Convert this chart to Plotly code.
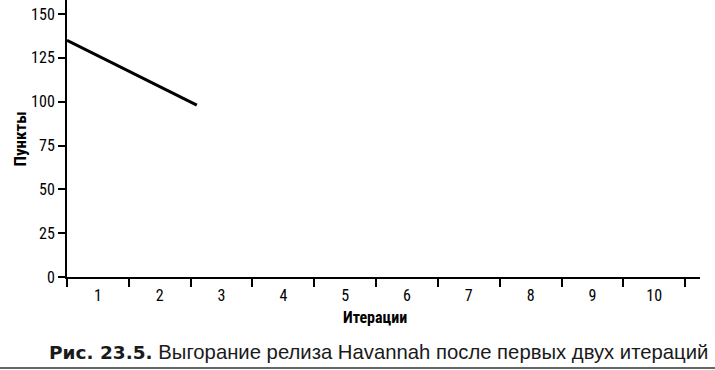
import plotly.graph_objects as go

# Data
iterations_done = [0, 2.1]       # position along iteration axis (boundary units)
points_remaining = [135, 98]
iteration_labels = ["1", "2", "3", "4", "5", "6", "7", "8", "9", "10"]
y_ticks = [0, 25, 50, 75, 100, 125, 150]

label_pos = [i + 0.5 for i in range(len(iteration_labels))]
boundaries = [i for i in range(len(iteration_labels) + 1)]

fig = go.Figure()
fig.add_trace(go.Scatter(x=iterations_done, y=points_remaining, mode="lines",
                         line=dict(color="black", width=3), showlegend=False,
                         cliponaxis=False))

narrow = "Liberation Sans Narrow, Arial Narrow, Roboto Condensed, Roboto, sans-serif"
tick_font = dict(family=narrow, size=16, color="black")

fig.update_layout(
    width=715, height=370,
    margin=dict(l=67, r=15, t=0, b=93),
    paper_bgcolor="white", plot_bgcolor="white",
    xaxis=dict(range=[0, 10.24], tickvals=label_pos, ticktext=iteration_labels,
               ticks="outside", ticklen=3, tickcolor="rgba(0,0,0,0)",
               showline=True, linecolor="black", linewidth=2, showgrid=False,
               zeroline=False, tickfont=tick_font,
               minor=dict(tickvals=boundaries, ticks="outside", ticklen=8,
                          tickwidth=2, tickcolor="black", showgrid=False)),
    yaxis=dict(range=[0, 158], tickvals=y_ticks, ticks="outside", ticklen=7,
               tickwidth=2, tickcolor="black",
               showline=True, linecolor="black", linewidth=2, showgrid=False,
               zeroline=False, tickfont=tick_font),
)

fig.add_annotation(text="<b>Пункты</b>", textangle=-90, xref="paper", yref="paper",
                   x=-48/633, y=0.5, xanchor="center", yanchor="middle", showarrow=False,
                   font=dict(family=narrow, size=17, color="black"))
fig.add_annotation(text="<b>Итерации</b>", xref="paper", yref="paper",
                   x=(375 - 67) / 633, y=(277 - 318) / 277, xanchor="center", yanchor="middle",
                   showarrow=False,
                   font=dict(family=narrow, size=16, color="black"))
fig.add_annotation(text="<span style=\"font-family:'DejaVu Sans';font-weight:bold;font-size:18.5px\">Рис. 23.5.</span>"
                        " Выгорание релиза Havannah после первых двух итераций",
                   xref="paper", yref="paper",
                   x=(710 - 67) / 633, y=(277 - 352) / 277, xanchor="right", yanchor="middle",
                   showarrow=False,
                   font=dict(family="Liberation Sans, Arial, sans-serif", size=20.3, color="#1a1a1a"))
fig.add_shape(type="line", xref="paper", yref="paper",
              x0=-67 / 633, x1=(715 - 67) / 633, y0=(277 - 368) / 277, y1=(277 - 368) / 277,
              line=dict(color="#333333", width=1.5))

fig.write_html("out.html", config={"displayModeBar": False},
               post_script="document.body.style.margin='0';")
